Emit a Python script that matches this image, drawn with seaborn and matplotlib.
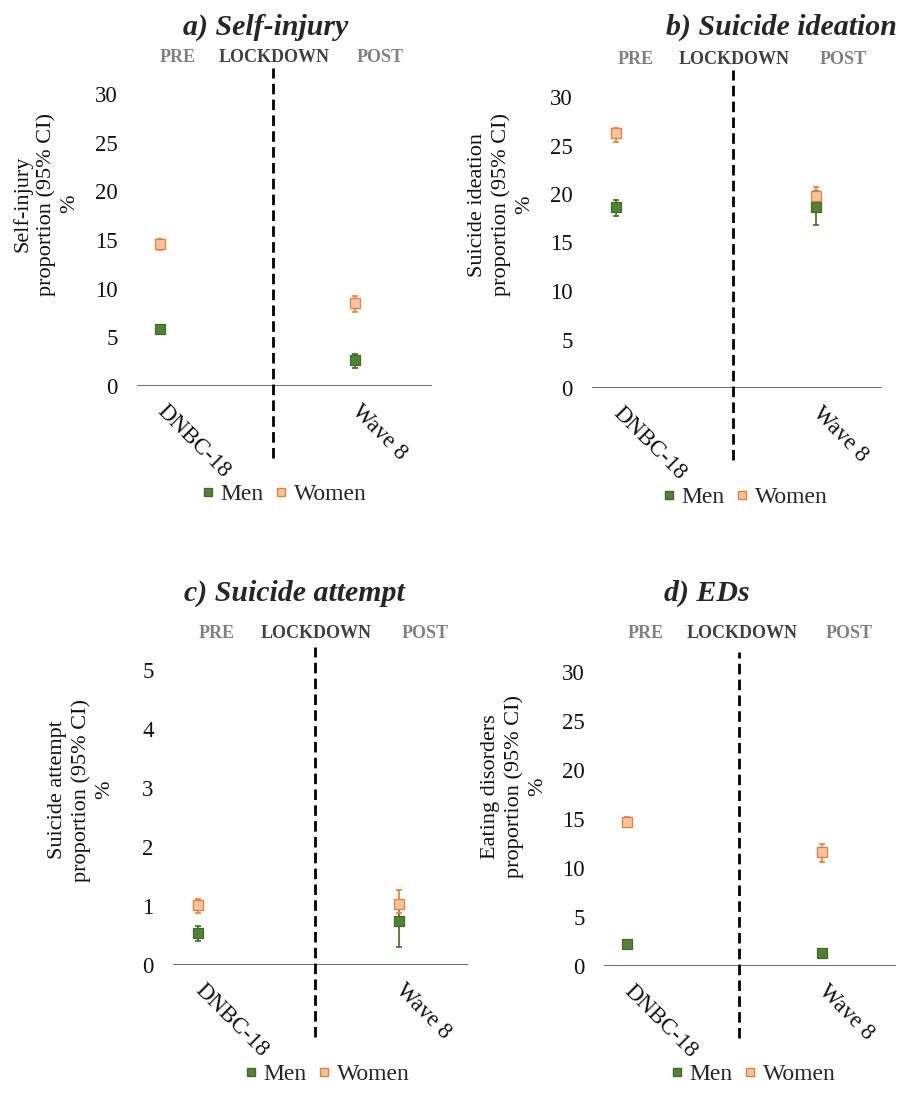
import numpy as np
import pandas as pd
import seaborn as sns
import matplotlib
matplotlib.use('Agg')
import matplotlib.pyplot as plt
from matplotlib.lines import Line2D

# Categories
waves = ['DNBC-18', 'Wave 8']
sexes = ['Men', 'Women']
titles = ['a) Self-injury', 'b) Suicide ideation', 'c) Suicide attempt', 'd) EDs']
ylabels = ['Self-injury', 'Suicide ideation', 'Suicide attempt', 'Eating disorders']
ymax = [30, 30, 5, 30]
ystep = [5, 5, 1, 5]

# Proportions (%) with 95% CI, one value per wave
selfinj_men = [5.9, 2.7]
selfinj_men_lo = [5.3, 1.9]
selfinj_men_hi = [6.3, 3.3]
selfinj_women = [14.6, 8.5]
selfinj_women_lo = [14.0, 7.6]
selfinj_women_hi = [15.1, 9.2]

ideation_men = [18.7, 18.7]
ideation_men_lo = [17.7, 16.8]
ideation_men_hi = [19.4, 20.3]
ideation_women = [26.3, 19.8]
ideation_women_lo = [25.4, 19.1]
ideation_women_hi = [26.8, 20.7]

attempt_men = [0.55, 0.75]
attempt_men_lo = [0.40, 0.31]
attempt_men_hi = [0.66, 1.10]
attempt_women = [1.02, 1.04]
attempt_women_lo = [0.88, 0.88]
attempt_women_hi = [1.12, 1.27]

eds_men = [2.2, 1.36]
eds_men_lo = [2.0, 1.15]
eds_men_hi = [2.5, 1.6]
eds_women = [14.7, 11.6]
eds_women_lo = [14.2, 10.6]
eds_women_hi = [15.2, 12.4]

panels = [
    (selfinj_men, selfinj_men_lo, selfinj_men_hi, selfinj_women, selfinj_women_lo, selfinj_women_hi),
    (ideation_men, ideation_men_lo, ideation_men_hi, ideation_women, ideation_women_lo, ideation_women_hi),
    (attempt_men, attempt_men_lo, attempt_men_hi, attempt_women, attempt_women_lo, attempt_women_hi),
    (eds_men, eds_men_lo, eds_men_hi, eds_women, eds_women_lo, eds_women_hi),
]

fill = {'Men': '#548235', 'Women': '#f8c3a0'}
edge = {'Men': '#3f6b27', 'Women': '#ed7d31'}

sns.set_theme(style='white')
plt.rcParams['font.family'] = ['Liberation Serif', 'DejaVu Serif']

W, H = 899, 1101
fig = plt.figure(figsize=(W / 100, H / 100), dpi=100)
fig.patch.set_facecolor('white')


def fx(x):
    return x / W


def fy(y):
    return 1 - y / H


# layout in pixels: plot area box, x of the two categories, dashed line x and extent,
# title (x, y), phase labels (x pre, x lockdown, x post, y), legend centre, y label centre
layout = [
    dict(l=137, r=432, t=94, b=386, c0=160, c1=355, dx=273, dt=68, db=458,
         title=(266, 27), phase=(178, 274, 380, 58), leg=(285, 494), yl=(46, 204)),
    dict(l=592, r=882, t=97, b=388, c0=616, c1=816, dx=733, dt=70, db=460,
         title=(781, 27), phase=(636, 734, 843, 59), leg=(746, 497), yl=(501, 205)),
    dict(l=173, r=468, t=670, b=965, c0=198, c1=399, dx=315, dt=647, db=1037,
         title=(294, 593), phase=(217, 316, 425, 634), leg=(328, 1074), yl=(81, 790)),
    dict(l=604, r=896, t=672, b=966, c0=627, c1=822, dx=739, dt=652, db=1038,
         title=(707, 593), phase=(646, 742, 849, 634), leg=(754, 1074), yl=(514, 787)),
]

for i, (vals, lay) in enumerate(zip(panels, layout)):
    m, m_lo, m_hi, w, w_lo, w_hi = vals
    df = pd.DataFrame({
        'wave': waves * 2,
        'pos': list(range(len(waves))) * 2,
        'sex': ['Men'] * len(waves) + ['Women'] * len(waves),
        'val': m + w,
        'lo': m_lo + w_lo,
        'hi': m_hi + w_hi,
    })

    ax = fig.add_axes([fx(lay['l']), fy(lay['b']), (lay['r'] - lay['l']) / W, (lay['b'] - lay['t']) / H])
    span = lay['c1'] - lay['c0']

    for sex in sexes:
        sub = df[df['sex'] == sex]
        ax.errorbar(sub['pos'], sub['val'], yerr=[sub['val'] - sub['lo'], sub['hi'] - sub['val']],
                    fmt='none', ecolor=edge[sex], elinewidth=1.2, capsize=2.5, capthick=1.2, zorder=2)
        sns.scatterplot(data=sub, x='pos', y='val', marker='s', s=44, color=fill[sex],
                        edgecolor=edge[sex], linewidth=0.9, ax=ax, zorder=3)

    ax.set_xlim((lay['l'] - lay['c0']) / span, (lay['r'] - lay['c0']) / span)
    ax.set_ylim(0, ymax[i])
    ax.set_yticks(np.arange(0, ymax[i] + ystep[i], ystep[i]))
    ax.set_xticks(range(len(waves)))
    ax.set_xticklabels(waves)
    ax.set_xlabel('')
    ax.set_ylabel('')
    sns.despine(ax=ax, left=True, bottom=True, top=True, right=True)
    ax.tick_params(axis='both', length=0, labelsize=16.5, colors='#111111')
    ax.tick_params(axis='y', pad=14)
    ax.tick_params(axis='x', pad=16)
    plt.setp(ax.get_xticklabels(), rotation=-45, ha='left', va='center', rotation_mode='anchor')
    ax.axhline(0, color='#6f6f6f', lw=1.4, zorder=1)

    # lockdown divider
    xd = (lay['dx'] - lay['c0']) / span
    h = lay['b'] - lay['t']
    ax.plot([xd, xd], [(lay['b'] - lay['db']) / h, (lay['b'] - lay['dt']) / h],
            transform=ax.get_xaxis_transform(), color='black', lw=2,
            ls=(0, (3.8, 1.9)), clip_on=False, zorder=1.5)

    # y label
    ax.text((lay['yl'][0] - lay['l']) / (lay['r'] - lay['l']), (lay['b'] - lay['yl'][1]) / h,
            ylabels[i] + '\nproportion (95% CI)\n%', transform=ax.transAxes,
            rotation=90, ha='center', va='center', multialignment='center',
            fontsize=16, color='#111111', linespacing=1.3)

    fig.text(fx(lay['title'][0]), fy(lay['title'][1]), titles[i], ha='center', va='center',
             fontsize=21.5, fontweight='bold', fontstyle='italic')
    px0, px1, px2, py = lay['phase']
    fig.text(fx(px0), fy(py), 'PRE', ha='center', va='center', fontsize=13,
             fontweight='bold', color='#808080')
    fig.text(fx(px1), fy(py), 'LOCKDOWN', ha='center', va='center', fontsize=13,
             fontweight='bold', color='#404040')
    fig.text(fx(px2), fy(py), 'POST', ha='center', va='center', fontsize=13,
             fontweight='bold', color='#808080')

    handles = [Line2D([], [], ls='none', marker='s', markersize=6, markerfacecolor=fill[s],
                      markeredgecolor=edge[s], label=s) for s in sexes]
    fig.legend(handles=handles, loc='center', bbox_to_anchor=(fx(lay['leg'][0]), fy(lay['leg'][1])),
               ncol=2, frameon=False, fontsize=17, handlelength=0.4, handletextpad=0.35,
               columnspacing=0.55, borderaxespad=0)

fig.savefig('out.png', dpi=100, facecolor='white')
